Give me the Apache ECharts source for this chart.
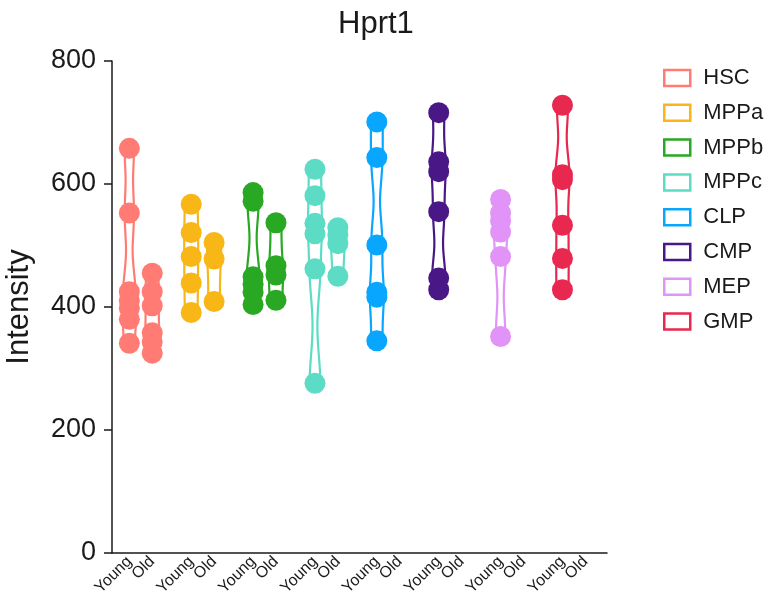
<!DOCTYPE html>
<html>
<head>
<meta charset="utf-8">
<title>Hprt1</title>
<script src="https://cdn.jsdelivr.net/npm/echarts@6/dist/echarts.min.js"></script>
<style>
html, body { margin: 0; padding: 0; background: #fff; }
#main { width: 769px; height: 603px; }
</style>
</head>
<body>
<div id="main"></div>
<script>
// data
var cellTypes = ['HSC', 'MPPa', 'MPPb', 'MPPc', 'CLP', 'CMP', 'MEP', 'GMP'];
var conditions = ['Young', 'Old'];
var youngValues = [
	[658, 553, 425, 410, 398, 380, 341],   // HSC
	[567, 521, 482, 439, 391],             // MPPa
	[586, 572, 449, 437, 424, 404],        // MPPb
	[624, 581, 536, 519, 462, 276],        // MPPc
	[701, 643, 501, 424, 416, 345],        // CLP
	[716, 636, 620, 555, 447, 428],        // CMP
	[575, 553, 540, 522, 482, 352],        // MEP
	[728, 615, 607, 533, 479, 428]         // GMP
];
var oldValues = [
	[455, 425, 402, 358, 343, 325],
	[505, 478, 409],
	[537, 467, 452, 411],
	[529, 517, 503, 450],
	[], [], [], []
];
var colors = ['#FF7B73', '#F8B617', '#29A823', '#5CDCC5', '#08A6FF', '#4A1886', '#E193F7', '#E8284F'];

var condOffset = [0.28, 0.65]; // position of Young / Old inside a group
var bw = 30; // kde bandwidth
var font = 'Liberation Sans';

function groupValues(ci, k) {
	return k === 0 ? youngValues[ci] : oldValues[ci];
}

// violin outline from a gaussian kde of the points
function renderViolin(params, api) {
	var x = api.value(0);
	var ci = api.value(2);
	var k = api.value(3);
	var vals = groupValues(ci, k);
	var lo = Math.min.apply(null, vals);
	var hi = Math.max.apply(null, vals);
	var steps = 80;
	var dens = [], dmax = 0;
	for (var s = 0; s <= steps; s++) {
		var v = lo + (hi - lo) * s / steps;
		var d = 0;
		for (var j = 0; j < vals.length; j++) {
			var z = (v - vals[j]) / bw;
			d += Math.exp(-0.5 * z * z);
		}
		dens.push([v, d]);
		if (d > dmax) dmax = d;
	}
	var right = [], left = [];
	for (var s = 0; s < dens.length; s++) {
		var p = api.coord([x, dens[s][0]]);
		var hw = 2 + 5 * Math.sqrt(dens[s][1] / dmax);
		right.push([p[0] + hw, p[1]]);
		left.unshift([p[0] - hw, p[1]]);
	}
	return {
		type: 'polygon',
		shape: { points: right.concat(left) },
		style: { fill: '#fff', stroke: colors[ci], lineWidth: 2.2 }
	};
}

var series = [];
var labelPositions = [];
cellTypes.forEach(function (name, ci) {
	var violinData = [];
	var pointData = [];
	conditions.forEach(function (c, k) {
		var x = ci + condOffset[k];
		labelPositions.push(x);
		var vals = groupValues(ci, k);
		if (!vals.length) return;
		violinData.push([x, vals[0], ci, k]);
		vals.forEach(function (v) { pointData.push([x, v]); });
	});
	series.push({
		type: 'custom',
		name: name,
		renderItem: renderViolin,
		encode: { x: 0, y: 1 },
		data: violinData,
		z: 2
	});
	series.push({
		type: 'scatter',
		name: name,
		data: pointData,
		symbolSize: 21,
		itemStyle: { color: colors[ci], opacity: 1 },
		z: 3
	});
});

var myChart = echarts.init(document.getElementById('main'));
var option = {
	animation: false,
	title: {
		text: 'Hprt1',
		left: 333,
		top: 4,
		textStyle: { fontFamily: font, fontSize: 31, fontWeight: 'normal', color: '#1a1a1a' }
	},
	legend: {
		orient: 'vertical',
		left: 663,
		top: 67,
		padding: 0,
		icon: 'rect',
		itemWidth: 26,
		itemHeight: 16,
		itemGap: 12.8,
		textStyle: { fontFamily: font, fontSize: 22, lineHeight: 22, color: '#1a1a1a', padding: [0, 0, 0, 8] },
		data: cellTypes.map(function (name, ci) {
			return { name: name, itemStyle: { color: '#fff', borderColor: colors[ci], borderWidth: 2.5 } };
		})
	},
	grid: { left: 112, right: 162, top: 61, bottom: 50, outerBoundsMode: 'none' },
	xAxis: {
		type: 'value',
		min: 0,
		max: 8,
		splitLine: { show: false },
		axisLine: { show: true, lineStyle: { color: '#1a1a1a', width: 1.5 } },
		axisTick: { show: false },
		axisLabel: {
			customValues: labelPositions,
			rotate: 45,
			margin: 6,
			fontFamily: font,
			fontSize: 16,
			color: '#1a1a1a',
			hideOverlap: false,
			showMinLabel: true,
			showMaxLabel: true,
			formatter: function (v) {
				return (v % 1) < 0.5 ? 'Young' : 'Old';
			}
		}
	},
	yAxis: {
		type: 'value',
		min: 0,
		max: 800,
		interval: 200,
		name: 'Intensity',
		nameLocation: 'middle',
		nameGap: 77,
		nameTextStyle: { fontFamily: font, fontSize: 31, color: '#1a1a1a' },
		splitLine: { show: false },
		axisLine: { show: true, lineStyle: { color: '#1a1a1a', width: 1.5 } },
		axisTick: { show: true, length: 8, lineStyle: { color: '#1a1a1a', width: 1.5 } },
		axisLabel: { fontFamily: font, fontSize: 27, color: '#1a1a1a', margin: 16 }
	},
	series: series
};
myChart.setOption(option);
</script>
</body>
</html>
